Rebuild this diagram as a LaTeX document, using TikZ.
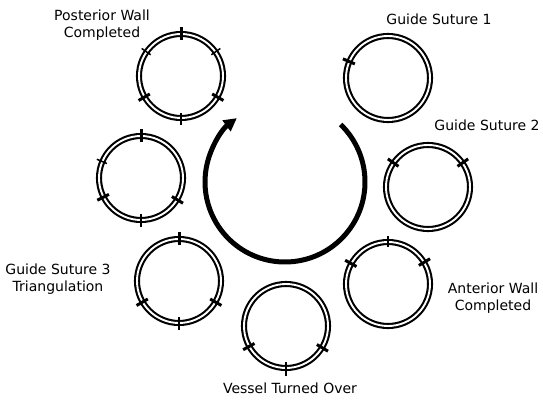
\documentclass[tikz,border=0pt]{standalone}
\usepackage{fontspec}
\setmainfont{DejaVu Sans}
\usetikzlibrary{arrows.meta}

\begin{document}
\begin{tikzpicture}[
    x=1pt, y=1pt,
    vessel/.style={circle, draw, double, line width=2.1pt, double distance=1.9pt, minimum size=84pt, inner sep=0pt},
    stitch/.style={line width=3pt},
    finestitch/.style={line width=1.5pt},
    caption/.style={align=center, font=\fontsize{14}{17}\selectfont},
    turn/.style={line width=5pt, -{Triangle[length=13pt, width=13pt]}}
  ]

  \useasboundingbox (0,0) rectangle (543,399);

  % vessel ends, clockwise from top left
  \node[vessel] (post) at (181,323) {};
  \node[vessel] (gs1) at (388,321) {};
  \node[vessel] (gs2) at (428,212) {};
  \node[vessel] (ant) at (388,115) {};
  \node[vessel] (over) at (286,73) {};
  \node[vessel] (gs3) at (179,118) {};
  \node[vessel] (mid) at (141,221) {};

  % stitches
  \draw[stitch] (post) ++(90:36) -- ++(90:13);
  \draw[finestitch] (post) ++(145:37) -- ++(145:11);
  \draw[finestitch] (post) ++(35:37) -- ++(35:11);
  \draw[stitch] (post) ++(210:36) -- ++(210:13);
  \draw[stitch] (post) ++(330:36) -- ++(330:13);
  \draw[finestitch] (post) ++(270:37) -- ++(270:12);

  \draw[stitch] (gs1) ++(157:36) -- ++(157:13);

  \draw[stitch] (gs2) ++(145:36) -- ++(145:13);
  \draw[stitch] (gs2) ++(35:36) -- ++(35:13);

  \draw[finestitch] (ant) ++(90:37) -- ++(90:11);
  \draw[stitch] (ant) ++(151:36) -- ++(151:13);
  \draw[stitch] (ant) ++(31:36) -- ++(31:13);

  \draw[stitch] (over) ++(209:36) -- ++(209:13);
  \draw[stitch] (over) ++(329:36) -- ++(329:13);
  \draw[finestitch] (over) ++(270:36) -- ++(270:14);

  \draw[stitch] (gs3) ++(90:36) -- ++(90:13);
  \draw[stitch] (gs3) ++(210:36) -- ++(210:13);
  \draw[stitch] (gs3) ++(330:36) -- ++(330:13);
  \draw[finestitch] (gs3) ++(270:36) -- ++(270:13);

  \draw[stitch] (mid) ++(90:36) -- ++(90:13);
  \draw[finestitch] (mid) ++(157:37) -- ++(157:11);
  \draw[stitch] (mid) ++(207:36) -- ++(207:13);
  \draw[stitch] (mid) ++(329:36) -- ++(329:13);
  \draw[finestitch] (mid) ++(270:36) -- ++(270:13);

  % turning arrow
  \coordinate (hub) at (285,217);
  \draw[turn] (hub) ++(46:80) arc[start angle=46, end angle=-233, radius=80];

  % captions
  \node[caption] (tpost) at (102,374) {Posterior Wall\\Completed};
  \node[caption] (tgs1) at (439,380) {Guide Suture 1};
  \node[caption] (tgs2) at (487,274) {Guide Suture 2};
  \node[caption] (tant) at (493,101) {Anterior Wall\\Completed};
  \node[caption] (tover) at (290,11) {Vessel Turned Over};
  \node[caption] (tgs3) at (58,120) {Guide Suture 3\\Triangulation};

\end{tikzpicture}
\end{document}
